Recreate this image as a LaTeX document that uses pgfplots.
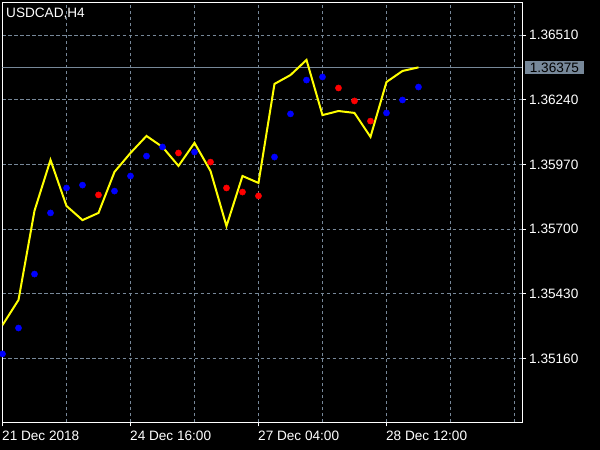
\documentclass[border=0pt]{standalone}
\usepackage{fontspec}
\setmainfont{Liberation Sans}
\usepackage{pgfplots}
\pgfplotsset{compat=1.18}
\definecolor{mtgrid}{HTML}{778899}
\definecolor{mtblue}{RGB}{0,0,255}
\definecolor{mtred}{RGB}{255,0,0}
\definecolor{mtyellow}{RGB}{255,255,0}
\newcommand\mtf{\fontsize{13.6pt}{16pt}\selectfont}
\begin{document}
\begin{tikzpicture}
\useasboundingbox (0,0) rectangle (600pt,450pt);
\fill[black] (0,0) rectangle (600pt,450pt);
\begin{axis}[
  at={(2.5pt,27.5pt)}, anchor=south west,
  scale only axis, width=519.5pt, height=419.5pt,
  xmin=0, xmax=32.47, ymin=1.348939, ymax=1.366435,
  axis line style={white, line width=1pt},
  xtick={0,8,16,24},
  xticklabels={21 Dec 2018,24 Dec 16:00,27 Dec 04:00,28 Dec 12:00},
  minor xtick={4,12,20,28,32},
  ytick={1.35160,1.35430,1.35700,1.35970,1.36240,1.36510},
  yticklabels={1.35160,1.35430,1.35700,1.35970,1.36240,1.36510},
  xtick pos=left, ytick pos=right, yticklabel pos=right,
  tick align=outside, major tick length=4pt, minor tick length=0pt,
  tick style={white, line width=1pt},
  grid=both,
  major grid style={mtgrid, dash pattern=on 3.3pt off 2.7pt, line width=1pt},
  minor grid style={mtgrid, dash pattern=on 3.3pt off 2.7pt, line width=1pt},
  xticklabel style={font=\mtf, text=white, anchor=north west, inner sep=0pt, xshift=-0.5pt, yshift=-4pt},
  yticklabel style={font=\mtf, text=white, anchor=west, inner sep=0pt, xshift=3pt},
  clip mode=individual,
]
\addplot[mtgrid, line width=1pt] coordinates {(0,1.36375) (32.47,1.36375)};
\addplot[mtyellow, line width=2pt, mark=none] coordinates {
(0,1.35300)(1,1.35405)(2,1.35777)(3,1.35989)(4,1.35797)(5,1.35738)(6,1.35768)
(7,1.35939)(8,1.36018)(9,1.36089)(10,1.36043)(11,1.35964)(12,1.36060)(13,1.35943)
(14,1.35713)(15,1.35922)(16,1.35893)(17,1.36306)(18,1.36343)(19,1.36406)(20,1.36176)
(21,1.36193)(22,1.36185)(23,1.36085)(24,1.36314)(25,1.36360)(26,1.36375)};
\addplot[only marks, mark=*, mark size=3.1pt, mark options={draw=mtblue, fill=mtblue}] coordinates {
(0,1.35180)(1,1.35288)(2,1.35513)(3,1.35768)(4,1.35872)(5,1.35884)(7,1.35859)
(8,1.35922)(9,1.36005)(10,1.36043)(12,1.36022)(17,1.36001)(18,1.36181)(19,1.36322)
(20,1.36335)(24,1.36185)(25,1.36239)(26,1.36293)};
\addplot[only marks, mark=*, mark size=3.1pt, mark options={draw=mtred, fill=mtred}] coordinates {
(6,1.35843)(11,1.36018)(13,1.35980)(14,1.35872)(15,1.35855)(16,1.35839)
(21,1.36289)(22,1.36235)(23,1.36151)};
\node[fill=mtgrid, text=black, font=\mtf, anchor=west, inner xsep=5pt, inner ysep=2pt, xshift=2.7pt] at (axis cs:32.47,1.36375) {1.36375};
\node[text=white, font=\mtf, anchor=north west, inner sep=0pt, xshift=3.5pt, yshift=-5.3pt] at (rel axis cs:0,1) {USDCAD,H4};
\end{axis}
\end{tikzpicture}
\end{document}
